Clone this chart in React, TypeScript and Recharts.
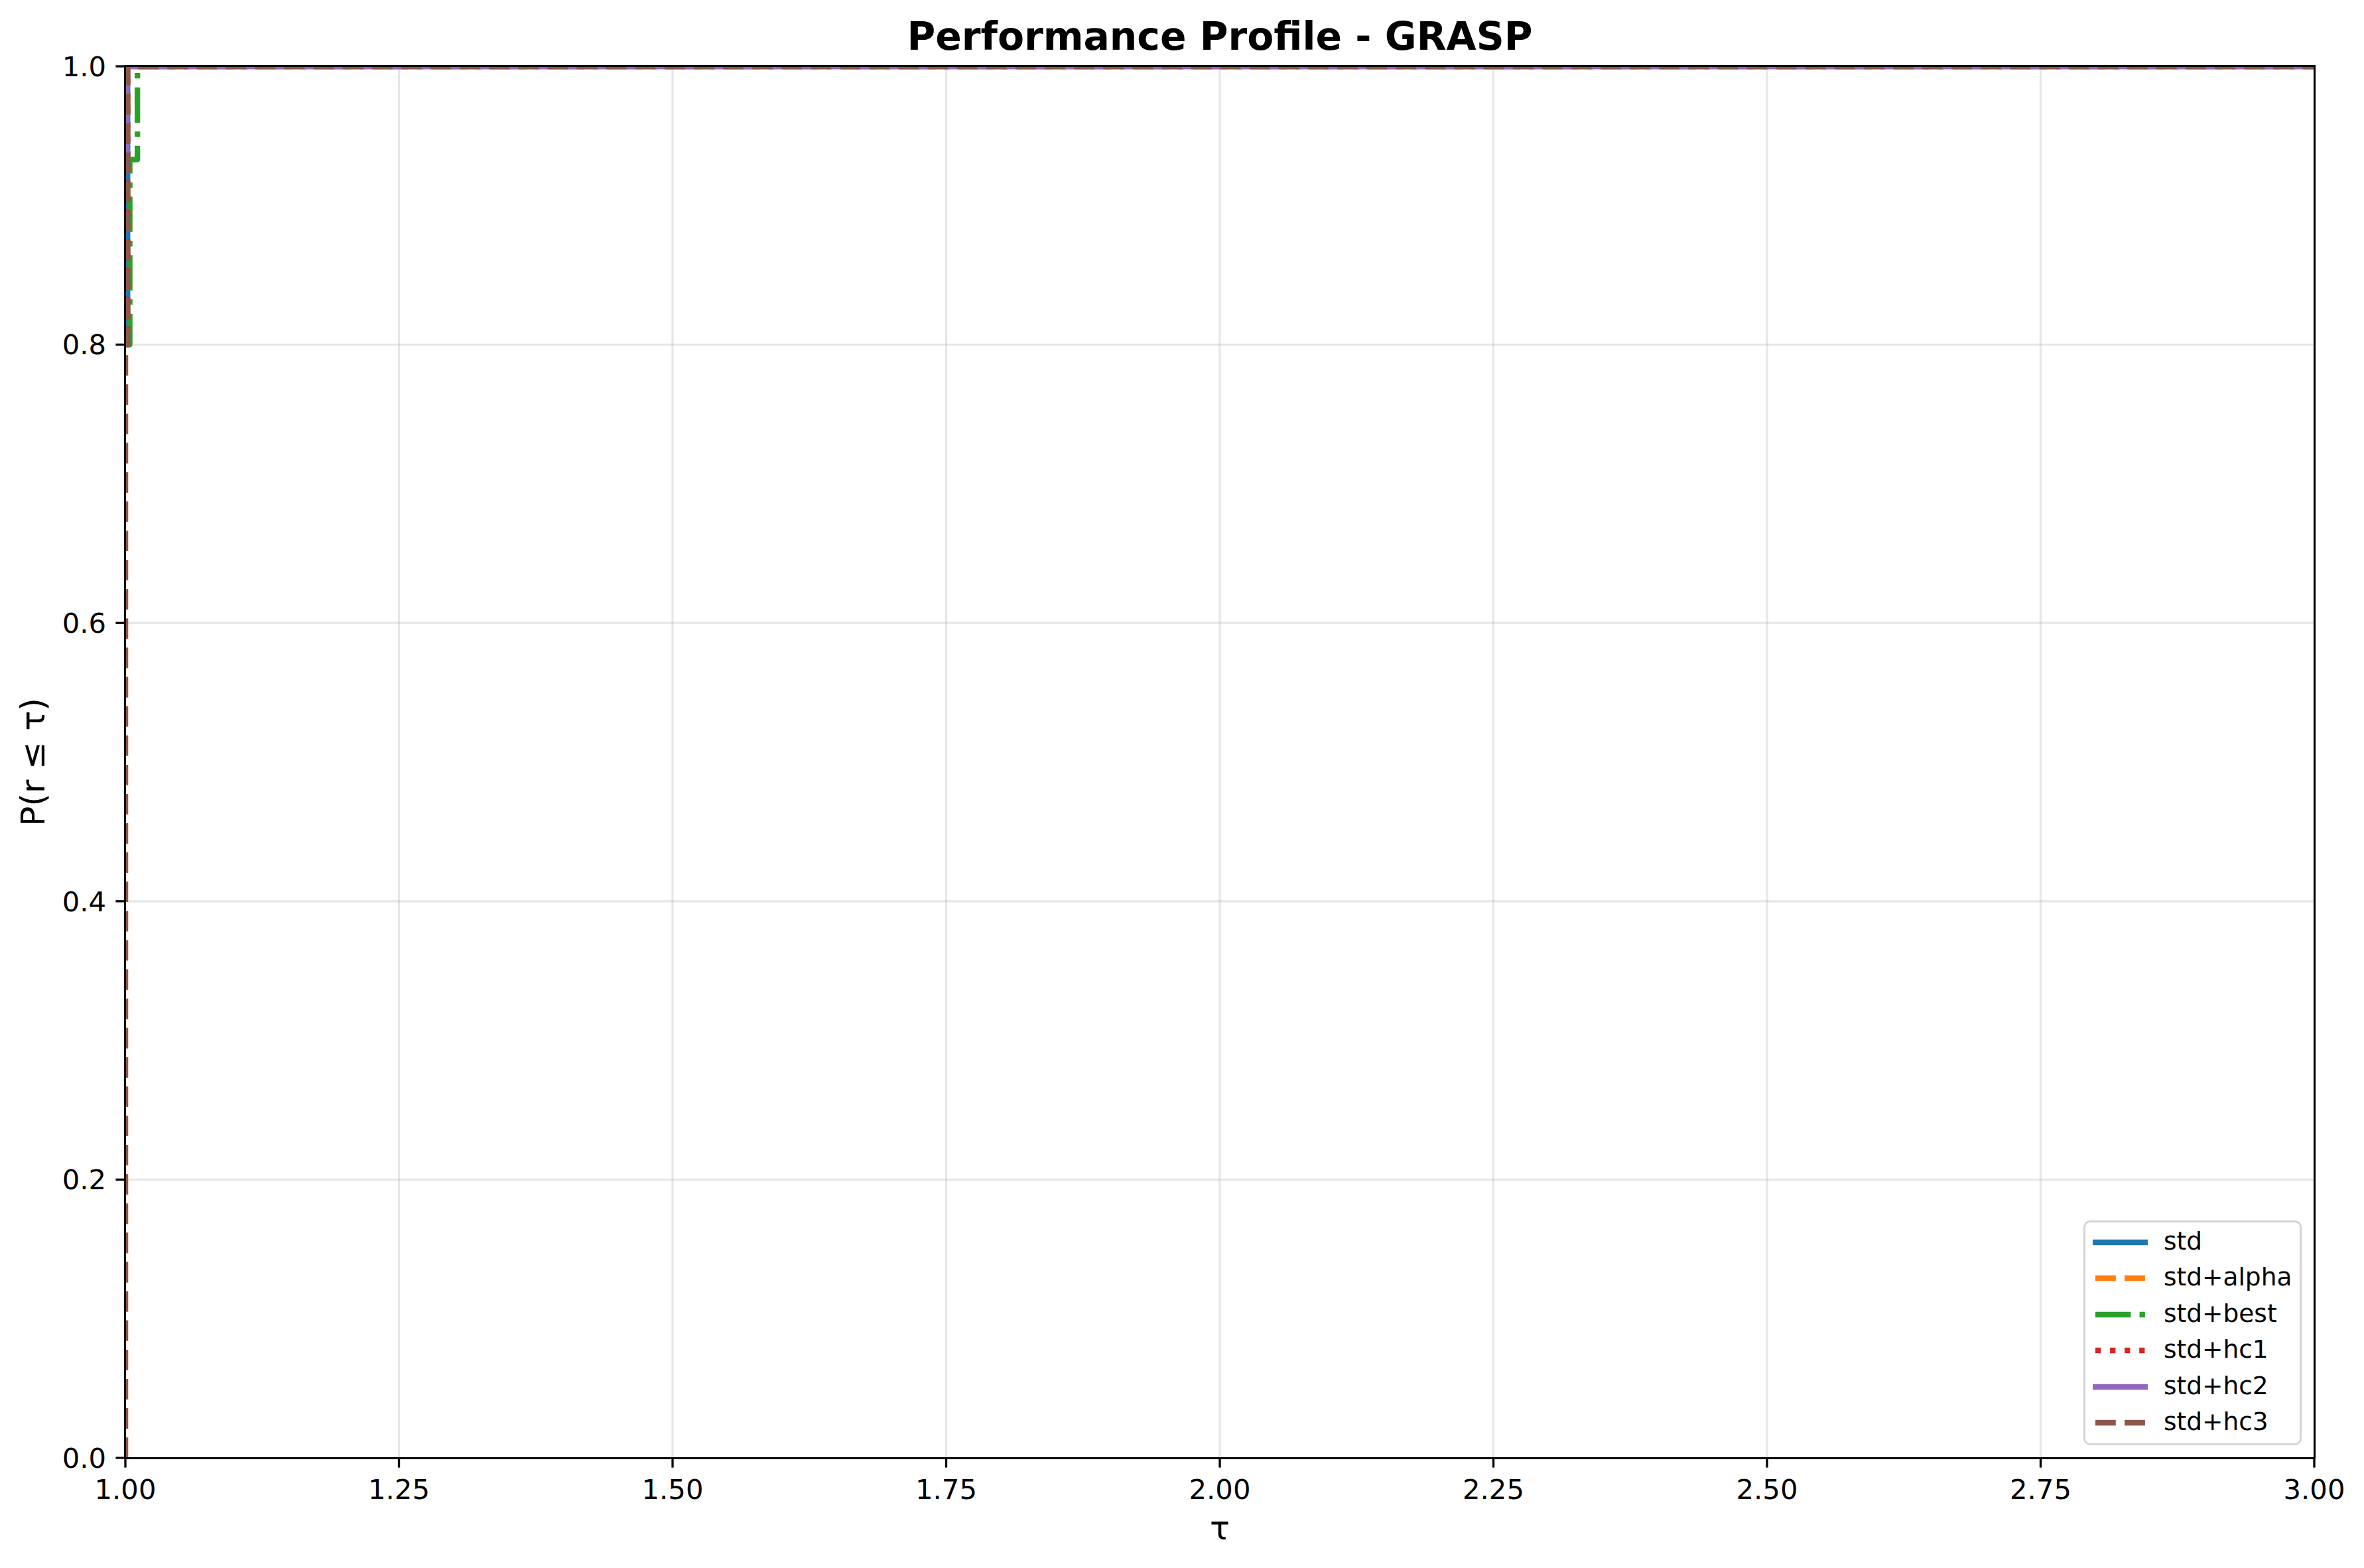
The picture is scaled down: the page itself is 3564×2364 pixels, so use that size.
import React from 'react';
import { LineChart, Line, XAxis, YAxis, CartesianGrid, Legend, Label } from 'recharts';

// tau breakpoints and P(r <= tau) for each variant (step profiles)
const tauStd = [1.0, 1.002, 3.0];
const pStd = [0.8, 1.0, 1.0];
const tauAlpha = [1.0, 1.0, 1.002, 3.0];
const pAlpha = [0, 0.8, 1.0, 1.0];
const tauBest = [1.0, 1.004, 1.011, 3.0];
const pBest = [0.8, 0.933, 1.0, 1.0];
const tauHc1 = [1.0, 1.002, 3.0];
const pHc1 = [0.8, 1.0, 1.0];
const tauHc2 = [1.0, 1.0015, 3.0];
const pHc2 = [0.933, 1.0, 1.0];
const tauHc3 = [1.0, 1.0, 1.002, 3.0];
const pHc3 = [0, 0.8, 1.0, 1.0];

const tauTicks = [1, 1.25, 1.5, 1.75, 2, 2.25, 2.5, 2.75, 3];
const pTicks = [0, 0.2, 0.4, 0.6, 0.8, 1];

const LW = 8.33;
const DASHED = '30.8 13.3';
const DASHDOT = '53.3 13.3 8.3 13.3';
const DOTTED = '8.3 13.75';

const toRows = (tau: number[], p: number[]) => tau.map((t, i) => ({ tau: t, p: p[i] }));

const series = [
  { name: 'std', color: '#1f77b4', dash: undefined, data: toRows(tauStd, pStd) },
  { name: 'std+alpha', color: '#ff7f0e', dash: DASHED, data: toRows(tauAlpha, pAlpha) },
  { name: 'std+best', color: '#2ca02c', dash: DASHDOT, data: toRows(tauBest, pBest) },
  { name: 'std+hc1', color: '#d62728', dash: DOTTED, data: toRows(tauHc1, pHc1) },
  { name: 'std+hc2', color: '#9467bd', dash: undefined, data: toRows(tauHc2, pHc2) },
  { name: 'std+hc3', color: '#8c564b', dash: DASHED, data: toRows(tauHc3, pHc3) },
];

const FONT = 'DejaVu Sans';
const tickStyle = { fill: '#000', fontSize: 41.7, fontFamily: FONT };

const LegendBox = () => (
  <div
    style={{
      width: 329,
      height: 339,
      boxSizing: 'border-box',
      border: '3.3px solid #d4d4d4',
      borderRadius: 10,
      background: 'rgba(255,255,255,0.8)',
      paddingTop: 10,
    }}
  >
    {series.map((s) => (
      <div key={s.name} style={{ position: 'relative', height: 54.4 }}>
        <svg width={100} height={20} style={{ position: 'absolute', left: 7, top: 10 }}>
          <line
            x1={s.dash ? 8 : 4}
            x2={s.dash ? 83 : 87}
            y1={10}
            y2={10}
            stroke={s.color}
            strokeWidth={LW}
            strokeDasharray={s.dash}
          />
        </svg>
        <span
          style={{
            position: 'absolute',
            left: 118,
            top: 0,
            fontSize: 37.5,
            lineHeight: '37.5px',
            fontFamily: FONT,
            color: '#000',
            whiteSpace: 'nowrap',
          }}
        >
          {s.name}
        </span>
      </div>
    ))}
  </div>
);

export default function App() {
  return (
    <div style={{ position: 'absolute', left: 0, top: 0, width: 3564, height: 2364, background: '#fff' }}>
      <div
        style={{
          position: 'absolute',
          left: 189,
          top: 25.7,
          width: 3300,
          textAlign: 'center',
          fontFamily: FONT,
          fontWeight: 'bold',
          fontSize: 58.3,
          lineHeight: '58.3px',
          color: '#000',
        }}
      >
        Performance Profile - GRASP
      </div>
      <LineChart width={3564} height={2364} margin={{ top: 100, right: 75, bottom: 106, left: 89 }}>
        <CartesianGrid stroke="#b0b0b0" strokeOpacity={0.3} strokeWidth={3.3} />
        <XAxis
          type="number"
          dataKey="tau"
          domain={[1, 3]}
          ticks={tauTicks}
          allowDataOverflow
          height={60}
          tick={tickStyle}
          tickFormatter={(v: number) => v.toFixed(2)}
          tickSize={14.6}
          tickMargin={18}
          tickLine={{ stroke: '#000', strokeWidth: 3.3 }}
          axisLine={false}
        >
          <Label
            position="bottom"
            content={({ viewBox }: any) => (
              <text
                x={viewBox.x + viewBox.width / 2}
                y={2321}
                textAnchor="middle"
                fontSize={50}
                fontFamily={FONT}
                fill="#000"
              >
                τ
              </text>
            )}
          />
        </XAxis>
        <YAxis
          type="number"
          domain={[0, 1]}
          ticks={pTicks}
          allowDataOverflow
          width={100}
          tick={tickStyle}
          tickFormatter={(v: number) => v.toFixed(1)}
          tickSize={14.6}
          tickMargin={14.4}
          tickLine={{ stroke: '#000', strokeWidth: 3.3 }}
          axisLine={false}
        >
          <Label
            position="left"
            content={({ viewBox }: any) => {
              const cy = viewBox.y + viewBox.height / 2;
              return (
                <text
                  x={67}
                  y={cy}
                  transform={`rotate(-90, 67, ${cy})`}
                  textAnchor="middle"
                  fontSize={50}
                  fontFamily={FONT}
                  fill="#000"
                >
                  P(r ≤ τ)
                </text>
              );
            }}
          />
        </YAxis>
        {series.map((s) => (
          <Line
            key={s.name}
            name={s.name}
            data={s.data}
            dataKey="p"
            type="stepAfter"
            stroke={s.color}
            strokeWidth={LW}
            strokeDasharray={s.dash}
            strokeLinecap={s.dash ? 'butt' : 'square'}
            strokeLinejoin="round"
            dot={false}
            activeDot={false}
            isAnimationActive={false}
          />
        ))}
        <Legend
          layout="vertical"
          align="center"
          verticalAlign="middle"
          content={() => <LegendBox />}
          wrapperStyle={{ left: 3141, top: 1840, width: 329, height: 339 }}
        />
      </LineChart>
      <div
        style={{
          position: 'absolute',
          left: 187.35,
          top: 98.35,
          width: 3303.3,
          height: 2101.3,
          boxSizing: 'border-box',
          border: '3.3px solid #000',
          pointerEvents: 'none',
        }}
      />
    </div>
  );
}
